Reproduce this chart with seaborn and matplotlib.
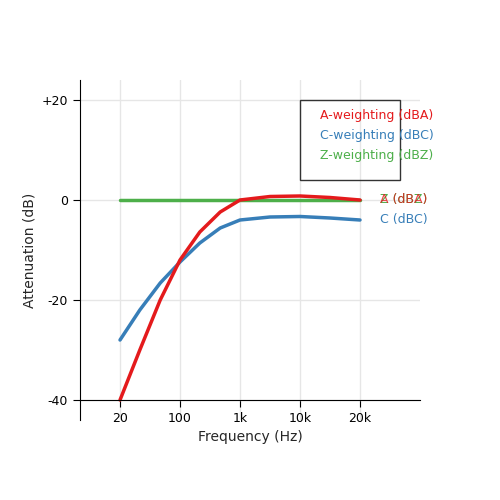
import matplotlib
matplotlib.use("Agg")
import matplotlib.pyplot as plt
import seaborn as sns
import pandas as pd

# data (positions on the ordinal frequency axis)
freqs = ["20", "100", "1k", "10k", "20k"]
pos = [0, 0.33, 0.67, 1, 1.33, 1.67, 2, 2.5, 3, 3.5, 4]
a_weight = [-40, -30, -20, -12, -6.4, -2.4, 0, 0.7, 0.8, 0.5, 0]
c_weight = [-28, -22, -16.6, -12.4, -8.6, -5.6, -4, -3.4, -3.3, -3.6, -4]
z_weight = [0, 0, 0, 0, 0, 0, 0, 0, 0, 0, 0]

red, blue, green = "#e41a1c", "#377eb8", "#4daf4a"

n = len(pos)
df = pd.DataFrame({
    "pos": pos * 3,
    "db": a_weight + c_weight + z_weight,
    "curve": ["A"] * n + ["C"] * n + ["Z"] * n,
})

sns.set_style("white")
fig = plt.figure(figsize=(5, 5), dpi=100)
ax = fig.add_axes([0.16, 0.16, 0.68, 0.68])

sns.lineplot(data=df, x="pos", y="db", hue="curve",
             palette={"A": red, "C": blue, "Z": green},
             hue_order=["Z", "C", "A"], linewidth=2.5, legend=False, ax=ax)

ax.set_xlim(-0.667, 5)
ax.set_ylim(-44, 24)
ax.set_xticks(range(len(freqs)))
ax.set_xticklabels(freqs)
ax.set_yticks([20, 0, -20, -40])
ax.set_yticklabels(["+20", "0", "-20", "-40"])
ax.grid(True, color="#e6e6e6", linewidth=1)
for s in ["top", "right"]:
    ax.spines[s].set_visible(False)
for s in ["left", "bottom"]:
    ax.spines[s].set_color("black")
ax.spines["bottom"].set_position(("data", -40))
ax.tick_params(axis="both", length=5, direction="out", bottom=True, left=True,
               labelsize=9, colors="black")
ax.set_xlabel("Frequency (Hz)", fontsize=10)
ax.set_ylabel("Attenuation (dB)", fontsize=10)

# legend box
ax.add_patch(plt.Rectangle((3, 4), 1.667, 16, fill=False, edgecolor="#333", linewidth=1))
for i, (t, c) in enumerate([("A-weighting (dBA)", red), ("C-weighting (dBC)", blue),
                             ("Z-weighting (dBZ)", green)]):
    ax.text(3.333, 16.8 - 4 * i, t, color=c, fontsize=9, va="center")

# end labels
ax.text(4.333, 0, "Z (dBZ)", color=green, fontsize=9, va="center")
ax.text(4.333, 0, "A (dBA)", color=red, fontsize=9, va="center", alpha=0.8)
ax.text(4.333, -4, "C (dBC)", color=blue, fontsize=9, va="center")

fig.savefig("out.png", dpi=100)
